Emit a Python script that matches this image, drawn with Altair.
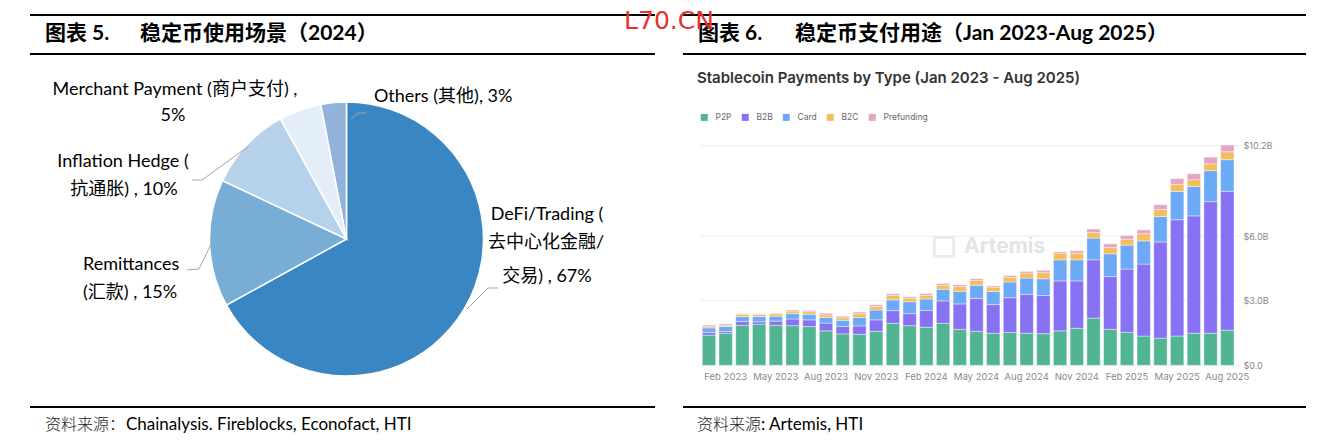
import altair as alt
import pandas as pd

# ---------------- data ----------------
pie_labels = ["DeFi/Trading", "Remittances", "Inflation Hedge", "Merchant Payment", "Others"]
pie_values = [67, 15, 10, 5, 3]
pie_colors = ["#3A86C2", "#78ADD6", "#B5D2EA", "#E4EEF8", "#93B4DA"]

months = ["Jan 2023", "Feb 2023", "Mar 2023", "Apr 2023", "May 2023", "Jun 2023",
          "Jul 2023", "Aug 2023", "Sep 2023", "Oct 2023", "Nov 2023", "Dec 2023",
          "Jan 2024", "Feb 2024", "Mar 2024", "Apr 2024", "May 2024", "Jun 2024",
          "Jul 2024", "Aug 2024", "Sep 2024", "Oct 2024", "Nov 2024", "Dec 2024",
          "Jan 2025", "Feb 2025", "Mar 2025", "Apr 2025", "May 2025", "Jun 2025",
          "Jul 2025", "Aug 2025"]
tick_months = ["Feb 2023", "May 2023", "Aug 2023", "Nov 2023", "Feb 2024", "May 2024",
               "Aug 2024", "Nov 2024", "Feb 2025", "May 2025", "Aug 2025"]

types = ["P2P", "B2B", "Card", "B2C", "Prefunding"]
type_colors = ["#52B592", "#8672F2", "#6CAAF7", "#F5BE5D", "#E4A5C6"]

p2p = [1.40, 1.49, 1.86, 1.91, 1.86, 1.84, 1.80, 1.60, 1.46, 1.44, 1.58, 1.95,
       1.84, 1.77, 1.95, 1.67, 1.58, 1.49, 1.53, 1.49, 1.47, 1.60, 1.72, 2.19,
       1.67, 1.53, 1.36, 1.26, 1.36, 1.49, 1.49, 1.63]
b2b = [0.12, 0.08, 0.17, 0.11, 0.19, 0.31, 0.31, 0.36, 0.34, 0.39, 0.53, 0.59,
       0.56, 0.78, 1.04, 1.18, 1.52, 1.33, 1.61, 1.81, 1.77, 2.32, 2.20, 2.71,
       2.45, 2.94, 3.34, 4.47, 5.40, 5.45, 6.11, 6.45]
card = [0.22, 0.23, 0.23, 0.25, 0.23, 0.25, 0.26, 0.26, 0.29, 0.39, 0.46, 0.50,
        0.55, 0.53, 0.54, 0.59, 0.62, 0.61, 0.73, 0.75, 0.78, 0.98, 0.98, 1.01,
        1.06, 1.11, 1.08, 1.18, 1.32, 1.37, 1.44, 1.47]
b2c = [0.08, 0.06, 0.11, 0.09, 0.11, 0.12, 0.12, 0.12, 0.12, 0.17, 0.16, 0.20,
       0.17, 0.17, 0.19, 0.22, 0.22, 0.20, 0.22, 0.23, 0.28, 0.31, 0.31, 0.26,
       0.29, 0.28, 0.33, 0.33, 0.32, 0.31, 0.32, 0.37]
prefunding = [0.05, 0.06, 0.03, 0.03, 0.03, 0.05, 0.06, 0.08, 0.07, 0.08, 0.08, 0.08,
              0.06, 0.08, 0.08, 0.08, 0.08, 0.06, 0.08, 0.08, 0.11, 0.06, 0.11, 0.16,
              0.17, 0.17, 0.18, 0.22, 0.27, 0.28, 0.31, 0.31]
y_ticks = [0, 3, 6, 10.2]

# ---------------- tables ----------------
pie_df = pd.DataFrame({"label": pie_labels, "value": pie_values,
                       "ord": list(range(len(pie_labels)))})
series = [p2p, b2b, card, b2c, prefunding]
rows = []
for j, (t, vals) in enumerate(zip(types, series)):
    for m, v in zip(months, vals):
        rows.append({"month": m, "type": t, "value": v, "ord": j})
bar_df = pd.DataFrame(rows)
grid_df = pd.DataFrame({"v": y_ticks})
one = pd.DataFrame({"a": [0]})

W, H = 1326, 427
OX, OY = 8, 8
LAT = "Lato, 'Noto Sans CJK SC', sans-serif"
CJK = "'Noto Sans CJK SC', sans-serif"
UI = "Inter, 'Noto Sans', sans-serif"


def txt(s, x, y, size=18, font=LAT, weight="normal", color="#000000", align="left"):
    return alt.Chart(one).mark_text(
        text=s, font=font, fontSize=size, fontWeight=weight, color=color,
        align=align, baseline="middle"
    ).encode(x=alt.value(x - OX), y=alt.value(y - OY))


def seg(x1, y1, x2, y2, color="#A6A6A6", w=1.0):
    return alt.Chart(one).mark_rule(color=color, strokeWidth=w).encode(
        x=alt.value(x1 - OX), y=alt.value(y1 - OY),
        x2=alt.value(x2 - OX), y2=alt.value(y2 - OY))


layers = []

# header / footer rules
for (a, b) in [(30, 655), (683, 1306)]:
    layers.append(seg(a, 15, b, 15, color="#000000", w=2))
    layers.append(seg(a, 54, b, 54, color="#000000", w=2))
    layers.append(seg(a, 407, b, 407, color="#000000", w=2))

# titles
layers.append(txt("图表 5.", 45, 34, size=21, weight="bold"))
layers.append(txt("稳定币使用场景（2024）", 140, 34, size=21, weight="bold"))
layers.append(txt("图表 6.", 698, 34, size=21, weight="bold"))
layers.append(txt("稳定币支付用途（Jan 2023-Aug 2025）", 795, 34, size=21, weight="bold"))

# sources
layers.append(txt("资料来源：", 45, 425, size=16, font=CJK, weight=300, color="#222222"))
layers.append(txt("Chainalysis. Fireblocks, Econofact, HTI", 126, 425, size=17))
layers.append(txt("资料来源", 697, 425, size=16, font=CJK, weight=300, color="#222222"))
layers.append(txt(": Artemis, HTI", 761, 425, size=17))

# watermark
layers.append(txt("L70.CN", 669, 20.5, size=25, font="'DejaVu Sans', sans-serif",
                  color="#E5322D", align="center"))

# ---------------- pie ----------------
pie = alt.Chart(pie_df).mark_arc(radius=137, stroke="white", strokeWidth=1.5).encode(
    theta=alt.Theta("value:Q", stack=True),
    color=alt.Color("label:N", scale=alt.Scale(domain=pie_labels, range=pie_colors),
                    legend=None),
    order=alt.Order("ord:Q", sort="ascending"),
    x=alt.value(346.5 - OX), y=alt.value(239 - OY),
)
layers.append(pie)

# leader lines
for pts in [[(351, 119), (358, 113), (366, 113)],
            [(249, 146), (202, 180), (192, 180)],
            [(211, 244), (199, 269), (187, 270)],
            [(467, 309), (488, 288), (498, 288)]]:
    for p, q in zip(pts[:-1], pts[1:]):
        layers.append(seg(p[0], p[1], q[0], q[1]))

# pie labels
layers.append(txt("Merchant Payment (商户支付) ,", 175, 90, align="center"))
layers.append(txt("5%", 173, 116, align="center"))
layers.append(txt("Others (其他), 3%", 374, 97))
layers.append(txt("Inflation Hedge (", 123, 162, align="center"))
layers.append(txt("抗通胀) , 10%", 124, 190, align="center"))
layers.append(txt("Remittances", 83, 265))
layers.append(txt("(汇款) , 15%", 83, 293))
layers.append(txt("DeFi/Trading (", 547, 215, align="center"))
layers.append(txt("去中心化金融/", 546, 243, align="center"))
layers.append(txt("交易) , 67%", 547, 277, align="center"))

# ---------------- bar chart ----------------
layers.append(txt("Stablecoin Payments by Type (Jan 2023 - Aug 2025)", 697, 78,
                  size=15, font=UI, weight=600, color="#333333"))
layers.append(txt("Artemis", 964, 247, size=21, font=UI, weight="bold", color="#E4E4E4"))
layers.append(alt.Chart(one).mark_point(shape="square", size=360, filled=False,
                                         color="#E4E4E4", strokeWidth=3).encode(
    x=alt.value(944 - OX), y=alt.value(247 - OY)))

yscale = alt.Scale(domain=[0, 10.2], range=[365.3 - OY, 145.7 - OY], nice=False, zero=True)

grid = alt.Chart(grid_df).mark_rule(color="#EEEEEE", strokeWidth=1).encode(
    y=alt.Y("v:Q", scale=yscale, axis=None),
    x=alt.value(700 - OX), x2=alt.value(1240 - OX),
)
layers.append(grid)

bars = alt.Chart(bar_df).mark_bar(stroke="white", strokeWidth=0.4).encode(
    x=alt.X("month:N", sort=months,
            scale=alt.Scale(range=[702.3 - OX, 1234.0 - OX], paddingInner=0.2, paddingOuter=0),
            axis=alt.Axis(values=tick_months, orient="bottom", offset=(365.3 - OY) - H,
                          labelAngle=0, ticks=False, domain=False, labelColor="#8A8A8A",
                          labelFontSize=9.5, labelFont=UI, labelPadding=6.5, title=None)),
    y=alt.Y("value:Q", stack="zero", scale=yscale,
            axis=alt.Axis(orient="right", values=y_ticks, offset=(1243 - OX) - W,
                          labelExpr="datum.value == 0 ? '$0.0' : '$' + format(datum.value, '.1f') + 'B'",
                          ticks=False, domain=False, grid=False, labelPadding=0,
                          labelColor="#8A8A8A", labelFontSize=9, labelFont=UI, title=None)),
    color=alt.Color("type:N", scale=alt.Scale(domain=types, range=type_colors),
                    legend=alt.Legend(orient="none", legendX=700 - OX, legendY=113 - OY,
                                      direction="horizontal", title=None, symbolType="square",
                                      symbolSize=49, symbolStrokeWidth=0, labelFontSize=8.5,
                                      labelColor="#666666", labelFont=UI, labelOffset=7,
                                      columnPadding=9)),
    order=alt.Order("ord:Q", sort="ascending"),
)
layers.append(bars)

chart = alt.layer(*layers).resolve_scale(
    color="independent", y="independent", x="independent"
).resolve_legend(color="independent").properties(
    width=W, height=H, padding=0, autosize=alt.AutoSizeParams(type="none")
).configure(background="white", view=alt.ViewConfig(stroke=None))

chart.save("out.html", embed_options={"renderer": "svg", "actions": False})
